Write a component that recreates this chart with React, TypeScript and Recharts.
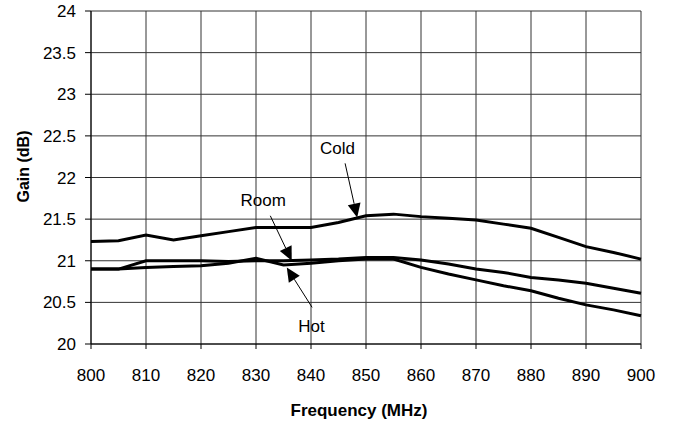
import {
  LineChart,
  Line,
  XAxis,
  YAxis,
  CartesianGrid,
  ReferenceLine,
  ReferenceDot,
  Label,
} from "recharts";

// frequency in MHz, gain in dB
const freqs = [
  800, 805, 810, 815, 820, 825, 830, 835, 840, 845, 850, 855, 860, 865, 870,
  875, 880, 885, 890, 895, 900,
];
const cold = [
  21.23, 21.24, 21.31, 21.25, 21.3, 21.35, 21.4, 21.4, 21.4, 21.46, 21.54,
  21.56, 21.53, 21.51, 21.49, 21.44, 21.39, 21.28, 21.17, 21.1, 21.02,
];
const room = [
  20.9, 20.9, 21.0, 21.0, 21.0, 20.99, 21.0, 21.0, 21.01, 21.02, 21.04, 21.04,
  21.01, 20.96, 20.9, 20.86, 20.8, 20.77, 20.73, 20.67, 20.61,
];
const hot = [
  20.9, 20.9, 20.92, 20.93, 20.94, 20.97, 21.03, 20.95, 20.97, 21.0, 21.02,
  21.02, 20.92, 20.84, 20.77, 20.7, 20.64, 20.55, 20.47, 20.41, 20.34,
];
const xTicks = [800, 810, 820, 830, 840, 850, 860, 870, 880, 890, 900];
const yTicks = [20, 20.5, 21, 21.5, 22, 22.5, 23, 23.5, 24];

// callouts: label position, arrow tail, arrow tip (data coords)
const notes = [
  { name: "Cold", text: [844.8, 22.36], from: [846.2, 22.17], to: [848.4, 21.52] },
  { name: "Room", text: [831.3, 21.73], from: [832.6, 21.54], to: [836.5, 21.0] },
  { name: "Hot", text: [840.1, 20.22], from: [840.2, 20.44], to: [835.6, 20.92] },
];

const data = freqs.map((f, i) => ({
  freq: f,
  cold: cold[i],
  room: room[i],
  hot: hot[i],
}));

const font = "'Liberation Sans', Arial, sans-serif";

const Arrow = (p: any) => {
  const { x1, y1, x2, y2 } = p;
  const dx = x2 - x1;
  const dy = y2 - y1;
  const len = Math.sqrt(dx * dx + dy * dy);
  const ux = dx / len;
  const uy = dy / len;
  const headLen = 14;
  const headW = 6.5;
  const bx = x2 - ux * headLen;
  const by = y2 - uy * headLen;
  const pts = `${x2},${y2} ${bx - uy * headW},${by + ux * headW} ${bx + uy * headW},${by - ux * headW}`;
  return (
    <g>
      <line x1={x1} y1={y1} x2={bx} y2={by} stroke="#000" strokeWidth={1} />
      <polygon points={pts} fill="#000" />
    </g>
  );
};

export default function App() {
  return (
    <div style={{ position: "absolute", left: 0, top: 0, fontFamily: font }}>
      <LineChart
        width={673}
        height={425}
        data={data}
        margin={{ top: 11, right: 32, bottom: 0, left: 0 }}
      >
        <CartesianGrid stroke="#333" strokeWidth={1} />
        <XAxis
          dataKey="freq"
          type="number"
          domain={[800, 900]}
          ticks={xTicks}
          height={81}
          tickSize={5}
          tickMargin={20}
          stroke="#000"
          tick={{ fill: "#000", fontSize: 17, fontFamily: font }}
        >
          <Label
            content={({ viewBox }: any) => (
              <text
                x={viewBox.x + viewBox.width / 2 - 7}
                y={viewBox.y + 72}
                textAnchor="middle"
                fontSize={17}
                fontWeight="bold"
                fontFamily={font}
                fill="#000"
              >
                Frequency (MHz)
              </text>
            )}
          />
        </XAxis>
        <YAxis
          type="number"
          domain={[20, 24]}
          ticks={yTicks}
          width={91}
          tickSize={6}
          tickMargin={9}
          stroke="#000"
          tick={{ fill: "#000", fontSize: 17, fontFamily: font }}
        >
          <Label
            content={({ viewBox }: any) => {
              const cx = viewBox.x + 29;
              const cy = viewBox.y + viewBox.height / 2 - 11;
              return (
                <text
                  x={cx}
                  y={cy}
                  transform={`rotate(-90 ${cx} ${cy})`}
                  textAnchor="middle"
                  fontSize={16}
                  fontWeight="bold"
                  fontFamily={font}
                  fill="#000"
                >
                  Gain (dB)
                </text>
              );
            }}
          />
        </YAxis>
        <Line dataKey="cold" stroke="#000" strokeWidth={3} dot={false} type="linear" isAnimationActive={false} />
        <Line dataKey="room" stroke="#000" strokeWidth={3} dot={false} type="linear" isAnimationActive={false} />
        <Line dataKey="hot" stroke="#000" strokeWidth={3} dot={false} type="linear" isAnimationActive={false} />
        {notes.map((n) => (
          <ReferenceLine
            key={`arrow-${n.name}`}
            segment={[
              { x: n.from[0], y: n.from[1] },
              { x: n.to[0], y: n.to[1] },
            ]}
            ifOverflow="visible"
            shape={Arrow}
          />
        ))}
        {notes.map((n) => (
          <ReferenceDot
            key={`text-${n.name}`}
            x={n.text[0]}
            y={n.text[1]}
            r={1}
            ifOverflow="visible"
            shape={(p: any) => (
              <text
                x={p.cx}
                y={p.cy}
                dy="0.36em"
                textAnchor="middle"
                fontSize={17}
                fontFamily={font}
                fill="#000"
              >
                {n.name}
              </text>
            )}
          />
        ))}
      </LineChart>
    </div>
  );
}
